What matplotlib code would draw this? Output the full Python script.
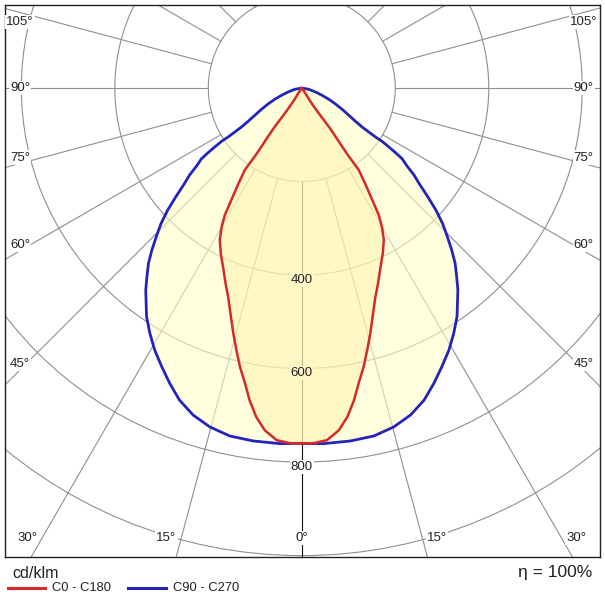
import numpy as np
import matplotlib
matplotlib.use("Agg")
import matplotlib.pyplot as plt
from matplotlib.lines import Line2D
from matplotlib.patches import Circle

plt.rcParams['font.family'] = ['Liberation Sans', 'DejaVu Sans']

# luminous intensity (cd/klm) against gamma angle (deg)
# C90 - C270 plane (blue)
gamma_c90 = [0, 3.5, 7.8, 11.7, 15.2, 18.4, 21.4, 24.1, 26.7, 29.3, 31.8, 34.2, 37.7, 39.4,
             41.2, 42.8, 44.4, 46.1, 47.7, 49.2, 50.9, 52.2, 53.6, 54.8, 55.4, 55.9, 56.4, 56.4,
             56.7, 57.1, 58.2, 59.9, 62.1, 64.6, 67.3, 70.2, 73.7, 79.5, 90]
cd_c90 = [760, 762, 762, 760, 751, 737, 717, 692, 667, 643, 617, 591, 546, 522,
          498, 472, 445, 418, 388, 356, 323, 304, 278, 263, 244, 225, 206, 189,
          172, 154, 135, 116, 98, 80, 63, 46, 31, 15, 0]

# C0 - C180 plane (red)
gamma_c0 = [0, 1.9, 4.1, 6.2, 7.9, 9.5, 10.9, 12.5, 14.0, 15.6, 17.6, 19.4, 21.3, 23.6,
            26.1, 28.4, 30.0, 31.2, 32.2, 33.4, 34.8, 34.7, 34.5, 34.6, 34.8, 35.0, 34.5,
            33.7, 32.9, 32.5, 33.7, 90]
cd_c0 = [760, 760, 755, 736, 710, 677, 643, 611, 578, 545, 505, 474, 449, 420,
         394, 369, 343, 318, 283, 249, 214, 195, 174, 151, 128, 104, 83,
         62, 43, 28, 15, 0]

grid_radii = [200, 400, 600, 800, 1000, 1200]
value_labels = [400, 600, 800]
angle_labels = [0, 15, 30, 45, 60, 75, 90, 105]

red = '#d42a2a'
blue = '#2424b8'
grid_col = '#8f8f8f'


def outline(gamma, cd):
    # mirror the half curve so both C-plane halves are drawn
    g = np.radians(gamma)
    r = np.asarray(cd, dtype=float)
    xl = -r * np.sin(g)
    yl = -r * np.cos(g)
    x = np.concatenate([xl, -xl[::-1]])
    y = np.concatenate([yl, yl[::-1]])
    return x, y


fig = plt.figure(figsize=(6.05, 6.05), dpi=100)
ax = fig.add_axes([5 / 605, 48 / 605, 595 / 605, 552 / 605])
ax.set_xlim(-635, 638)
ax.set_ylim(-1003, 177.5)
ax.set_xticks([])
ax.set_yticks([])
for sp in ax.spines.values():
    sp.set_linewidth(1.0)
    sp.set_color('#222222')

# polar grid
for r in grid_radii:
    ax.add_patch(Circle((0, 0), r, fill=False, ec=grid_col, lw=0.8, zorder=1))
for a in range(0, 181, 15):
    g = np.radians(a)
    rr = np.array([200, 1500])
    for side in (-1, 1):
        if a in (0, 180) and side == 1:
            continue
        ax.plot(side * rr * np.sin(g), -rr * np.cos(g),
                color='#111111' if a == 0 else grid_col, lw=0.8, zorder=1)

# filled curves
xb, yb = outline(gamma_c90, cd_c90)
xr, yr = outline(gamma_c0, cd_c0)
ax.fill(xb, yb, facecolor='#FFFFC8', alpha=0.6, lw=0, zorder=2)
ax.fill(xr, yr, facecolor='#FFF0A0', alpha=0.42, lw=0, zorder=3)
ax.plot(xb, yb, color=blue, lw=2.0, zorder=4, solid_joinstyle='round')
ax.plot(xr, yr, color=red, lw=1.8, zorder=4, solid_joinstyle='round')

# intensity labels along the 0 deg line
for v in value_labels:
    bg = '#FFF8C6' if v < 760 else 'white'
    ax.text(0, -v - 10, str(v), ha='center', va='center', fontsize=9.5, color='#222222',
            bbox=dict(facecolor=bg, edgecolor='none', pad=0.6), zorder=6)

# angle labels at the frame
xin, yin = 603, 962.6
for a in angle_labels:
    g = np.radians(a)
    s, c = np.sin(g), np.cos(g)
    for side in (-1, 1):
        if a == 0 and side == 1:
            continue
        if c > 0 and yin * s / c <= xin:
            px, py = side * yin * s / c, -yin
            ha = 'center' if a == 0 else ('right' if side < 0 else 'left')
            va = 'center'
            if a > 0:
                px += side * 10
        else:
            px, py = side * xin, -xin * c / s
            ha = 'center'
            va = 'center' if a == 90 else ('bottom' if a < 90 else 'top')
            if a > 90:
                py -= 8
        ax.text(px, py, f"{a}°", ha=ha, va=va, fontsize=9.5, color='#222222',
                bbox=dict(facecolor='white', edgecolor='none', pad=0.8), zorder=6)

# footer
fig.text(12 / 605, 1 - 573 / 605, 'cd/klm', ha='left', va='center', fontsize=11.5, color='#222222')
fig.text(592 / 605, 1 - 573 / 605, 'η = 100%', ha='right', va='center', fontsize=12.5, color='#222222')
ly = 1 - 588 / 605
fig.add_artist(Line2D([8 / 605, 45 / 605], [ly, ly], color=red, lw=2.2))
fig.text(52 / 605, ly, 'C0 - C180', ha='left', va='center', fontsize=9.3, color='#222222')
fig.add_artist(Line2D([128 / 605, 166 / 605], [ly, ly], color=blue, lw=2.2))
fig.text(173 / 605, ly, 'C90 - C270', ha='left', va='center', fontsize=9.3, color='#222222')

fig.savefig('out.png', dpi=100)
